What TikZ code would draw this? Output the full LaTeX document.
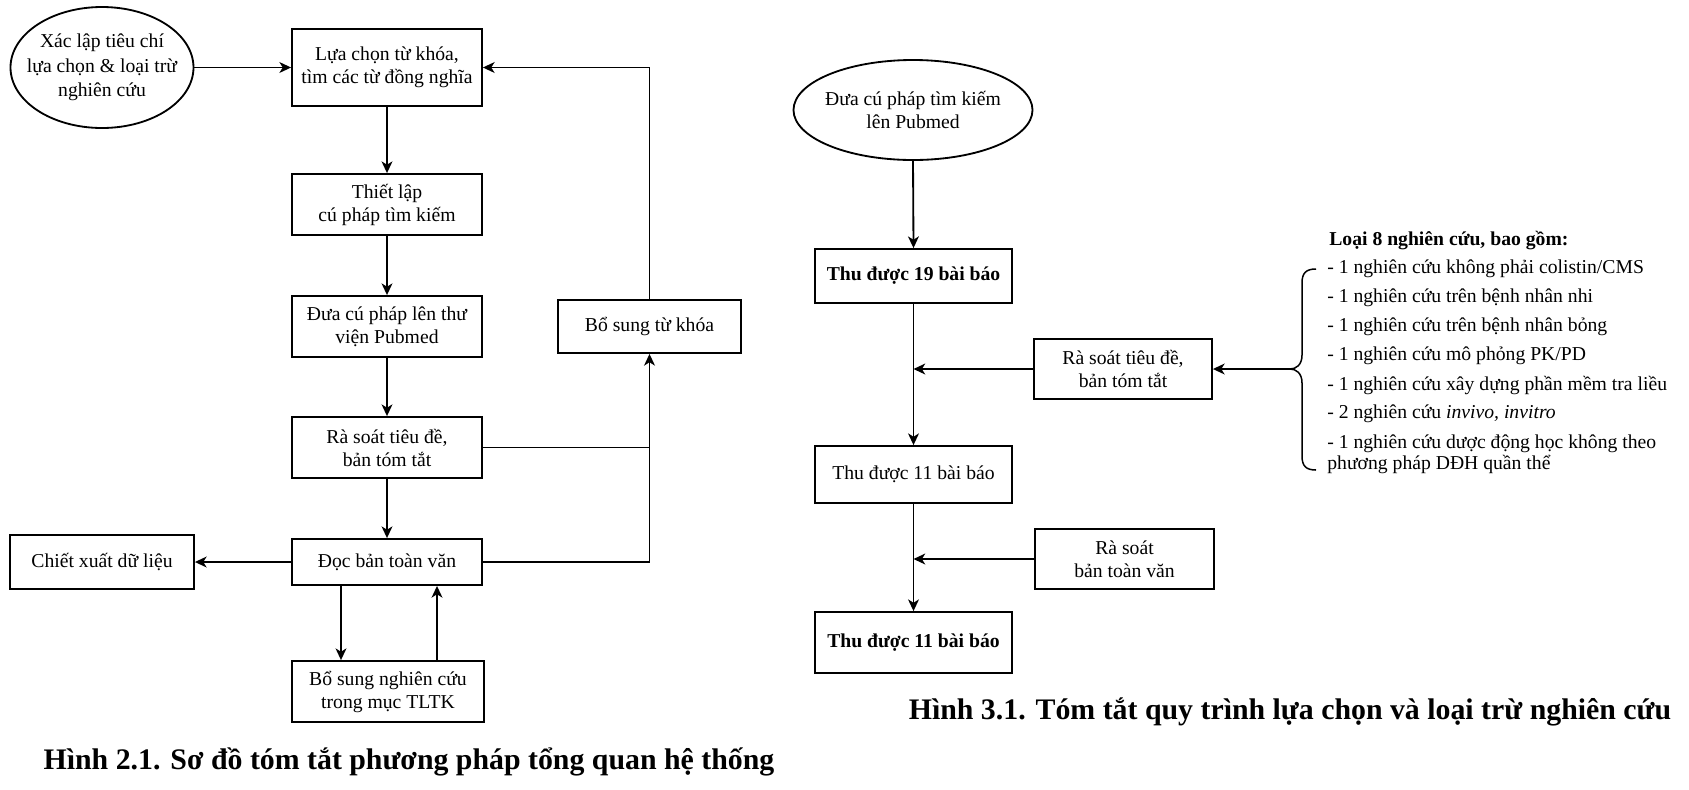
\documentclass[tikz,border=0pt]{standalone}
\usepackage{fontspec}
\setmainfont{Liberation Serif}
\usetikzlibrary{arrows.meta,shapes.geometric,calc}
\tikzset{
  basefont/.style={font=\fontsize{11.8}{13.8}\selectfont},
  boxnode/.style 2 args={basefont, draw, line width=1.1pt, align=center, inner sep=0pt,
    minimum width=#1*0.6pt, minimum height=#2*0.6pt},
  ellnode/.style 2 args={draw, ellipse, line width=1.1pt, inner sep=0pt,
    minimum width=#1*0.6pt, minimum height=#2*0.6pt},
  txtnode/.style={basefont, align=center, inner sep=0pt},
  listitem/.style={basefont, anchor=base west, inner sep=0pt, align=left},
  arr/.style={line width=1.1pt, -{Stealth[length=7pt,width=6.5pt,inset=2pt]}},
  ln/.style={line width=1.1pt},
  captxt/.style={font=\fontsize{17.9}{21}\selectfont\bfseries, inner sep=0pt, anchor=base}
}
\begin{document}
\begin{tikzpicture}[x=0.6pt,y=-0.6pt]
\path[use as bounding box, fill=white] (0,0) rectangle (1689,789);

% ---------- left diagram ----------
\node[ellnode={183}{121}] (e1) at (102,67.5) {};
\node[txtnode, font=\fontsize{11.8}{14.6}\selectfont] (e1t) at (e1) {Xác lập tiêu chí\\lựa chọn \& loại trừ\\nghiên cứu};
\node[boxnode={190}{77}] (b1) at (387,67.5) {Lựa chọn từ khóa,\\tìm các từ đồng nghĩa};
\node[boxnode={190}{61}] (b2) at (387,204.5) {Thiết lập\\cú pháp tìm kiếm};
\node[boxnode={190}{61}] (b3) at (387,326.5) {Đưa cú pháp lên thư\\viện Pubmed};
\node[boxnode={190}{61}] (b4) at (387,447.5) {Rà soát tiêu đề,\\bản tóm tắt};
\node[boxnode={190}{46}] (b5) at (387,562) {Đọc bản toàn văn};
\node[boxnode={184}{54}] (b6) at (102,562) {Chiết xuất dữ liệu};
\node[boxnode={192}{61}] (b7) at (388,691.5) {Bổ sung nghiên cứu\\trong mục TLTK};
\node[boxnode={183}{53}] (b8) at (649.5,326.5) {Bổ sung từ khóa};

\draw[arr] (e1.east) -- (b1.west);
\draw[arr] (b1.south) -- (b2.north);
\draw[arr] (b2.south) -- (b3.north);
\draw[arr] (b3.south) -- (b4.north);
\draw[arr] (b4.south) -- (b5.north);
\draw[arr] (b5.west) -- (b6.east);
\draw[arr] ($(b5.south)+(-46,0)$) -- ($(b7.north)+(-47,0)$);
\draw[arr] ($(b7.north)+(49,0)$) -- ($(b5.south)+(50,0)$);
\draw[ln] (b4.east) -- (b4.east -| b8.south);
\draw[arr] (b5.east) -| (b8.south);
\draw[arr] (b8.north) |- (b1.east);

\node[captxt] (c1) at (409,769) {Hình 2.1. Sơ đồ tóm tắt phương pháp tổng quan hệ thống};

% ---------- right diagram ----------
\node[ellnode={239}{100}] (e2) at (913,110) {};
\node[txtnode] (e2t) at (e2) {Đưa cú pháp tìm kiếm\\lên Pubmed};
\node[boxnode={197}{54}, font=\fontsize{11.8}{13.8}\selectfont\bfseries] (r1) at (913.5,276) {Thu được 19 bài báo};
\node[boxnode={178}{60}] (r2) at (1123,369) {Rà soát tiêu đề,\\bản tóm tắt};
\node[boxnode={197}{57}] (r3) at (913.5,474.5) {Thu được 11 bài báo};
\node[boxnode={179}{60}] (r4) at (1124.5,559) {Rà soát\\bản toàn văn};
\node[boxnode={197}{61}, font=\fontsize{11.8}{13.8}\selectfont\bfseries] (r5) at (913.5,642.5) {Thu được 11 bài báo};

\draw[arr] (e2.south) -- (r1.north);
\draw[arr] (r1.south) -- (r3.north);
\draw[arr] (r2.west) -- (r2.west -| r1.south);
\draw[arr] (r3.south) -- (r5.north);
\draw[arr] (r4.west) -- (r4.west -| r3.south);

% brace
\draw[ln, line width=0.9pt] (1316,269) .. controls (1306,269) and (1302,273) .. (1302,283)
  -- (1302,355) .. controls (1302,365) and (1296,369) .. (1290,369)
  .. controls (1296,369) and (1302,373) .. (1302,383)
  -- (1302,456) .. controls (1302,466) and (1306,470) .. (1316,470);
\coordinate (bt) at (1290,369);
\draw[arr] (bt) -- (r2.east);

\node[listitem, font=\fontsize{11.8}{13.8}\selectfont\bfseries] (l0) at (1329,245) {Loại 8 nghiên cứu, bao gồm:};
\node[listitem] (l1) at (1327,273) {- 1 nghiên cứu không phải colistin/CMS};
\node[listitem] (l2) at (1327,302) {- 1 nghiên cứu trên bệnh nhân nhi};
\node[listitem] (l3) at (1327,331) {- 1 nghiên cứu trên bệnh nhân bỏng};
\node[listitem] (l4) at (1327,360) {- 1 nghiên cứu mô phỏng PK/PD};
\node[listitem] (l5) at (1327,390) {- 1 nghiên cứu xây dựng phần mềm tra liều};
\node[listitem] (l6) at (1327,418) {- 2 nghiên cứu \textit{invivo, invitro}};
\node[listitem] (l7) at (1327,448) {- 1 nghiên cứu dược động học không theo};
\node[listitem] (l8) at (1327,469) {phương pháp DĐH quần thể};

\node[captxt] (c2) at (1290,719) {Hình 3.1. Tóm tắt quy trình lựa chọn và loại trừ nghiên cứu};
\end{tikzpicture}
\end{document}
